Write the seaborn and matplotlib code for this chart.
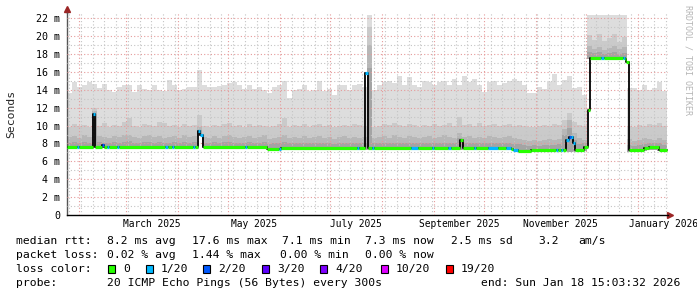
import numpy as np
import pandas as pd
import matplotlib
matplotlib.use("Agg")
import matplotlib.pyplot as plt
import matplotlib.dates as mdates
import matplotlib.transforms as mtrans
from matplotlib.patches import Rectangle
from matplotlib.ticker import MultipleLocator, FuncFormatter, NullFormatter
import seaborn as sns

# ---------------- data ----------------
start = pd.Timestamp("2025-01-24 14:00")
data_end = pd.Timestamp("2026-01-18 15:03:32")
axis_end = pd.Timestamp("2026-01-19 02:00")

# smoke: sorted ping percentiles per 3-day bin (ms)
p20 = [13.6, 14.9, 14.3, 14.5, 14.9, 14.7, 14.2, 14.7, 14.0, 13.8,
       14.3, 14.5, 14.5, 13.8, 14.5, 14.1, 14.0, 14.5, 14.0, 13.9,
       15.1, 14.5, 14.0, 14.1, 14.3, 14.3, 16.2, 14.5, 14.3, 14.3,
       14.4, 14.5, 14.8, 14.9, 14.6, 14.1, 14.6, 14.1, 14.3, 14.0,
       13.6, 14.3, 14.6, 15.0, 13.1, 14.0, 14.1, 14.6, 13.9, 14.0,
       15.0, 13.9, 14.1, 13.4, 14.5, 14.6, 14.0, 14.6, 14.7, 14.3,
       22.35, 14.0, 14.5, 14.9, 15.0, 14.8, 15.6, 14.6, 15.4, 14.6,
       14.3, 15.0, 14.9, 14.6, 14.9, 15.0, 14.6, 15.2, 14.6, 15.6,
       14.9, 15.2, 14.5, 13.8, 14.9, 15.0, 14.6, 14.8, 15.0, 15.2,
       15.0, 14.5, 13.6, 13.6, 14.3, 14.1, 14.9, 15.8, 14.6, 15.1,
       15.5, 14.2, 14.3, 13.4, 22.35, 22.35, 22.35, 22.35, 22.35, 22.35,
       22.35, 22.35, 14.2, 14.2, 14.0, 14.6, 14.0, 14.2, 14.9, 13.9]

p19 = [9.9, 10.2, 10.0, 10.1, 9.8, 12.0, 10.0, 10.3, 9.9, 10.1,
       10.0, 10.4, 10.8, 10.0, 9.9, 10.2, 10.1, 10.0, 10.4, 10.3,
       10.0, 10.1, 9.9, 10.2, 10.0, 10.1, 11.2, 10.0, 9.9, 10.1,
       10.0, 10.2, 10.3, 10.0, 10.1, 9.9, 10.2, 10.0, 10.1, 10.0,
       9.8, 10.0, 10.2, 10.8, 9.9, 10.1, 10.0, 10.2, 9.9, 10.1,
       10.2, 10.0, 10.1, 9.8, 10.0, 10.1, 10.0, 10.2, 10.1, 10.0,
       21.0, 9.8, 10.0, 10.2, 10.1, 10.3, 10.1, 10.0, 10.2, 10.1,
       9.9, 10.1, 10.0, 10.2, 10.0, 10.1, 10.3, 10.0, 11.0, 10.1,
       10.2, 10.0, 10.3, 10.0, 10.1, 10.2, 10.0, 10.1, 10.2, 10.0,
       10.1, 10.0, 9.8, 9.9, 10.0, 10.1, 10.0, 10.2, 10.1, 10.6,
       11.4, 10.4, 10.1, 10.0, 20.1, 19.6, 20.3, 19.5, 19.8, 20.2,
       19.4, 19.9, 10.0, 9.9, 10.1, 10.0, 10.2, 10.1, 10.3, 10.0]

p18 = [8.7, 8.8, 8.6, 8.9, 8.7, 11.6, 8.8, 8.7, 8.6, 8.8,
       8.7, 8.9, 9.0, 8.7, 8.6, 8.8, 8.9, 8.7, 8.8, 8.6,
       8.7, 8.8, 8.6, 8.9, 8.7, 8.8, 9.8, 8.7, 8.6, 8.8,
       8.6, 8.8, 8.9, 8.7, 8.6, 8.7, 8.8, 8.6, 8.7, 8.9,
       8.5, 8.6, 8.7, 9.0, 8.6, 8.7, 8.6, 8.8, 8.6, 8.7,
       8.8, 8.6, 8.7, 8.5, 8.7, 8.8, 8.6, 8.7, 8.6, 8.7,
       19.0, 8.6, 8.7, 8.8, 8.6, 8.9, 8.7, 8.6, 8.8, 8.7,
       8.6, 8.7, 8.8, 8.6, 8.7, 8.9, 8.7, 8.6, 9.2, 8.7,
       8.8, 8.6, 8.7, 8.6, 8.8, 8.7, 8.6, 8.7, 8.8, 8.6,
       8.5, 8.4, 8.3, 8.4, 8.3, 8.4, 8.5, 8.4, 8.5, 9.6,
       10.6, 9.2, 8.6, 8.4, 18.9, 18.6, 18.8, 18.5, 18.7, 18.9,
       18.6, 18.8, 8.5, 8.3, 8.4, 8.6, 8.5, 8.4, 8.6, 8.4]

p17 = [8.1, 8.2, 8.1, 8.2, 8.1, 11.3, 8.2, 8.1, 8.1, 8.2,
       8.1, 8.2, 8.3, 8.1, 8.1, 8.2, 8.2, 8.1, 8.2, 8.1,
       8.1, 8.2, 8.1, 8.2, 8.1, 8.2, 9.5, 8.1, 8.1, 8.2,
       8.1, 8.2, 8.2, 8.1, 8.1, 8.1, 8.2, 8.1, 8.1, 8.2,
       7.9, 8.0, 8.0, 8.2, 8.0, 8.0, 8.0, 8.1, 8.0, 8.0,
       8.1, 8.0, 8.0, 7.9, 8.0, 8.1, 8.0, 8.0, 8.0, 8.0,
       16.5, 8.0, 8.0, 8.1, 8.0, 8.1, 8.0, 8.0, 8.1, 8.0,
       8.0, 8.0, 8.1, 8.0, 8.0, 8.1, 8.0, 8.0, 8.6, 8.0,
       8.1, 8.0, 8.0, 8.0, 8.1, 8.0, 8.0, 8.0, 8.1, 7.9,
       7.9, 7.8, 7.7, 7.8, 7.7, 7.8, 7.8, 7.8, 7.9, 9.0,
       9.7, 8.4, 7.9, 8.0, 18.2, 18.1, 18.2, 18.0, 18.1, 18.2,
       18.0, 18.1, 7.8, 7.7, 7.8, 7.9, 8.1, 8.0, 8.0, 7.8]

p1 = [7.45, 7.45, 7.45, 7.45, 7.45, 7.45, 7.45, 7.45, 7.45, 7.45,
      7.45, 7.45, 7.45, 7.45, 7.45, 7.45, 7.45, 7.45, 7.45, 7.45,
      7.45, 7.45, 7.45, 7.45, 7.45, 7.45, 8.8, 7.45, 7.45, 7.45,
      7.45, 7.45, 7.45, 7.45, 7.45, 7.45, 7.45, 7.45, 7.45, 7.45,
      7.25, 7.25, 7.3, 7.3, 7.3, 7.3, 7.3, 7.3, 7.3, 7.3,
      7.3, 7.3, 7.3, 7.3, 7.3, 7.3, 7.3, 7.3, 7.3, 7.3,
      7.3, 7.3, 7.3, 7.3, 7.3, 7.3, 7.3, 7.3, 7.3, 7.3,
      7.3, 7.3, 7.3, 7.3, 7.3, 7.3, 7.3, 7.3, 7.3, 7.3,
      7.3, 7.3, 7.3, 7.3, 7.3, 7.3, 7.3, 7.3, 7.25, 7.2,
      7.05, 7.05, 7.05, 7.1, 7.15, 7.15, 7.15, 7.15, 7.15, 7.2,
      7.1, 7.1, 7.15, 7.2, 17.4, 17.4, 17.4, 17.4, 17.4, 17.4,
      17.4, 17.4, 7.1, 7.1, 7.1, 7.2, 7.3, 7.3, 7.15, 7.15]

# median rtt: change points (days since start), value (ms), loss class index
med_day = [0.0, 6.0, 7.2, 15.6, 16.8, 21.0, 22.2, 24.0, 25.2, 30.0,
           31.1, 58.7, 60.5, 62.9, 64.1, 75.5, 76.7, 78.5, 79.7, 81.5,
           106.6, 107.8, 119.8, 127.0, 128.2, 173.7, 174.9, 178.5, 180.3, 182.7,
           183.9, 205.5, 209.7, 218.6, 219.8, 228.2, 229.4, 234.8, 236.6, 243.2,
           244.4, 251.6, 257.6, 262.4, 265.4, 266.6, 269.6, 277.3, 292.3, 293.5,
           295.3, 296.5, 298.3, 300.1, 301.3, 302.5, 303.7, 309.1, 311.5, 312.7,
           319.3, 321.1, 332.4, 333.6, 334.2, 336.0, 345.0, 348.0, 354.0]
med_val = [7.6, 7.6, 7.6, 11.3, 7.6, 7.8, 7.6, 7.6, 7.6, 7.6,
           7.6, 7.6, 7.6, 7.6, 7.6, 7.6, 7.6, 9.4, 8.9, 7.6,
           7.6, 7.6, 7.35, 7.35, 7.45, 7.45, 7.45, 15.9, 7.45, 7.45,
           7.45, 7.45, 7.45, 7.45, 7.45, 7.45, 7.45, 8.4, 7.45, 7.45,
           7.45, 7.45, 7.45, 7.45, 7.4, 7.3, 7.2, 7.3, 7.3, 7.3,
           7.3, 7.3, 8.4, 8.75, 8.75, 8.0, 7.26, 7.6, 11.7, 17.55,
           17.55, 17.55, 17.55, 17.4, 17.1, 7.26, 7.5, 7.6, 7.3]
med_loss = [0, 1, 0, 1, 0, 2, 0, 1, 0, 1,
            0, 1, 0, 1, 0, 1, 0, 1, 1, 0,
            1, 0, 0, 1, 0, 1, 0, 1, 0, 1,
            0, 1, 0, 1, 0, 1, 0, 0, 0, 1,
            0, 1, 0, 1, 0, 1, 0, 0, 1, 0,
            1, 0, 1, 2, 1, 1, 0, 0, 0, 0,
            1, 0, 1, 0, 0, 0, 0, 0, 0]

loss_labels = ["0", "1/20", "2/20", "3/20", "4/20", "10/20", "19/20"]
loss_colors = ["#26ff00", "#00b8ff", "#0059ff", "#5e00ff", "#7e00ff", "#dd00ff", "#ff0000"]
smoke_colors = ["#dddddd", "#cacaca", "#b7b7b7", "#a4a4a4"]

month_labels = ["2025-03", "2025-05", "2025-07", "2025-09", "2025-11", "2026-01"]

rtt_stats = ["8.2 ms avg", "17.6 ms max", "7.1 ms min", "7.3 ms now", "2.5 ms sd", "3.2", "am/s"]
loss_stats = ["0.02 % avg", "1.44 % max", "0.00 % min", "0.00 % now"]
probe_text = "20 ICMP Echo Pings (56 Bytes) every 300s"
end_text = "end: Sun Jan 18 15:03:32 2026"

# ---------------- figure ----------------
sns.set_style("white")
MONO = "DejaVu Sans Mono"
plt.rcParams["font.family"] = [MONO, "DejaVu Sans"]

W, H = 697, 297
fig = plt.figure(figsize=(W / 100, H / 100), dpi=100)
ax = fig.add_axes([67 / W, (H - 215) / H, 601 / W, 202 / H])

def dnum(ts):
    return mdates.date2num(pd.DatetimeIndex(ts).to_pydatetime())

edges = dnum(pd.date_range(start, data_end, periods=len(p20) + 1))

for vals, col in zip([p20, p19, p18, p17], smoke_colors):
    ax.fill_between(edges, list(p1) + [p1[-1]], list(vals) + [vals[-1]],
                    step="post", color=col, lw=0, zorder=1)

seg_start = dnum(start + pd.to_timedelta(med_day, unit="D"))
seg_end = np.append(seg_start[1:], dnum([data_end]))

sns.lineplot(x=np.append(seg_start, seg_end[-1]), y=list(med_val) + [med_val[-1]],
             drawstyle="steps-post", color="black", lw=1.3, estimator=None,
             sort=False, ax=ax, zorder=4)
ax.hlines(med_val, seg_start, seg_end, colors=[loss_colors[k] for k in med_loss],
          lw=2.3, zorder=5, capstyle="butt")

# axes limits & grid
ax.set_xlim(dnum([start])[0], dnum([axis_end])[0])
ax.set_ylim(0, 22.6)
ax.set_xlabel("")
ax.set_ylabel("")

ax.xaxis.set_major_locator(mdates.MonthLocator())
ax.xaxis.set_minor_locator(mdates.WeekdayLocator(byweekday=mdates.SU))
ax.xaxis.set_major_formatter(NullFormatter())
ax.yaxis.set_major_locator(MultipleLocator(2))
ax.yaxis.set_minor_locator(MultipleLocator(1))
ax.yaxis.set_major_formatter(FuncFormatter(lambda v, p: "0" if v == 0 else f"{v:.0f} m"))

ax.set_axisbelow(False)
ax.grid(which="minor", color="#c4c4c4", linestyle=(0, (1, 2)), lw=0.8, zorder=2)
ax.grid(which="major", color="#e59a9a", linestyle=(0, (1, 2)), lw=0.8, zorder=2)

ax.tick_params(axis="both", which="both", direction="out", color="#333333", width=0.8)
ax.tick_params(axis="both", which="major", length=3)
ax.tick_params(axis="both", which="minor", length=2)
ax.tick_params(axis="y", which="major", pad=2, labelsize=7.2, labelcolor="black")

for s in ["top", "right"]:
    ax.spines[s].set_visible(False)
ax.spines["left"].set_color("#555555")
ax.spines["bottom"].set_color("black")
ax.spines["left"].set_linewidth(1.0)
ax.spines["bottom"].set_linewidth(1.0)

# axis arrows
ax.plot([0, 0], [1, 1.015], transform=ax.transAxes, color="#555555", lw=1.0, clip_on=False)
ax.plot([1.0035], [0], marker=">", ms=4, color="#9b2525", transform=ax.transAxes, clip_on=False)
ax.plot([0], [1.02], marker="^", ms=4, color="#9b2525", transform=ax.transAxes, clip_on=False)

# month labels centred on the month
trans = mtrans.blended_transform_factory(ax.transData, ax.transAxes)
for m in month_labels:
    p = pd.Period(m, freq="M")
    mid = p.start_time + (p.end_time - p.start_time) / 2
    ax.text(dnum([mid])[0], -0.045, p.start_time.strftime("%B %Y"), transform=trans,
            ha="center", va="center", fontsize=6.9, family=MONO, color="black")

# y label & watermark
fig.text(11 / W, 1 - 114 / H, "Seconds", rotation=90, ha="center", va="center",
         fontsize=8.2, family=MONO)
fig.text(688 / W, 1 - 60 / H, "RRDTOOL / TOBI OETIKER", rotation=270, ha="center",
         va="center", fontsize=6, family=MONO, color="#b5b5b5")

# legend block
def ftext(x, y, s, **kw):
    fig.text(x / W, 1 - y / H, s, ha="left", va="center", fontsize=8.2, family=MONO,
             color="black", **kw)

ftext(16, 241, "median rtt:")
for x, s in zip([107, 192, 282, 365, 451, 538, 578], rtt_stats):
    ftext(x, 241, s)
ftext(16, 255, "packet loss:")
for x, s in zip([107, 192, 280, 365], loss_stats):
    ftext(x, 255, s)
ftext(16, 269, "loss color:")
for bx, lab, col in zip([108, 146, 203, 262, 320, 381, 446], loss_labels, loss_colors):
    fig.add_artist(Rectangle((bx / W, 1 - 273 / H), 7 / W, 8 / H, transform=fig.transFigure,
                             facecolor=col, edgecolor="black", lw=0.8))
    ftext(bx + 15, 269, lab)
ftext(16, 283, "probe:")
ftext(107, 283, probe_text)
ftext(481, 283, end_text)

fig.savefig("out.png", dpi=100, facecolor="white")
